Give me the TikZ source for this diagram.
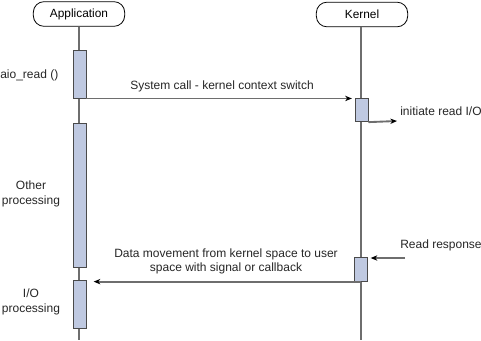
\documentclass[tikz,border=0pt]{standalone}
\usepackage{fontspec}
\setmainfont{Liberation Sans}
\usetikzlibrary{arrows.meta}
\definecolor{linegray}{HTML}{6E6E6E}
\definecolor{actfill}{HTML}{BFC9E1}
\definecolor{actedge}{HTML}{4A4A4A}
\begin{document}
\begin{tikzpicture}[x=0.75pt,y=-0.75pt,
  head/.style={draw=black, line width=0.6pt, rounded corners=8pt, minimum width=68.5pt, minimum height=18.5pt, inner sep=0pt, font=\fontsize{8.9}{10}\selectfont, fill=white},
  life/.style={draw=linegray, line width=1.5pt},
  act/.style={draw=actedge, fill=actfill, line width=0.7pt, inner sep=0pt, minimum width=9.75pt},
  msg/.style={draw=linegray, line width=1.4pt, -{Stealth[length=5pt,width=4pt,inset=1.5pt,color=black]}, shorten >=2pt},
  lbl/.style={font=\fontsize{9}{10.7}\selectfont, text=black!85, inner sep=0pt, align=center}]
\useasboundingbox (0,0) rectangle (481,340);
% lifelines
\coordinate (appbot) at (79,340);
\coordinate (kerbot) at (361,340);
\node[head] (app) at (79,14) {Application};
\node[head] (ker) at (362,14.5) {Kernel};
\draw[life] (app.south) -- (appbot);
\draw[life] (ker.south -| kerbot) -- (kerbot);
% activations
\node[act, minimum height=36pt] (a1) at (79.5,74) {};
\node[act, minimum height=108pt] (a2) at (80,195) {};
\node[act, minimum height=36pt] (a3) at (80,304) {};
\node[act, minimum height=17.5pt] (k1) at (361.5,110) {};
\node[act, minimum height=17.5pt] (k2) at (361,269.5) {};
% free ends
\coordinate (ioend) at (397,121);
\coordinate (rrstart) at (405,258);
% messages
\draw[msg] (a1.south east) -- (a1.south east -| k1.west);
\draw[msg, shorten >=0pt] (k1.south east) -- (ioend);
\draw[msg] (rrstart) -- (rrstart -| k2.east);
\draw[msg, shorten >=5pt] (k2.south -| kerbot) -- (k2.south -| a3.east);
% labels
\node[lbl] (l1) at (222,86) {System call - kernel context switch};
\node[lbl, anchor=west] (l2) at (400,111) {initiate read I/O};
\node[lbl, anchor=west] (l3) at (400,245) {Read response};
\node[lbl] (l4) at (226,261.5) {Data movement from kernel space to user\\space with signal or callback};
\node[lbl, anchor=west] (l5) at (0,75) {aio\_read ()};
\node[lbl] (l6) at (31,194) {Other\\processing};
\node[lbl] (l7) at (31,302) {I/O\\processing};
\end{tikzpicture}
\end{document}
